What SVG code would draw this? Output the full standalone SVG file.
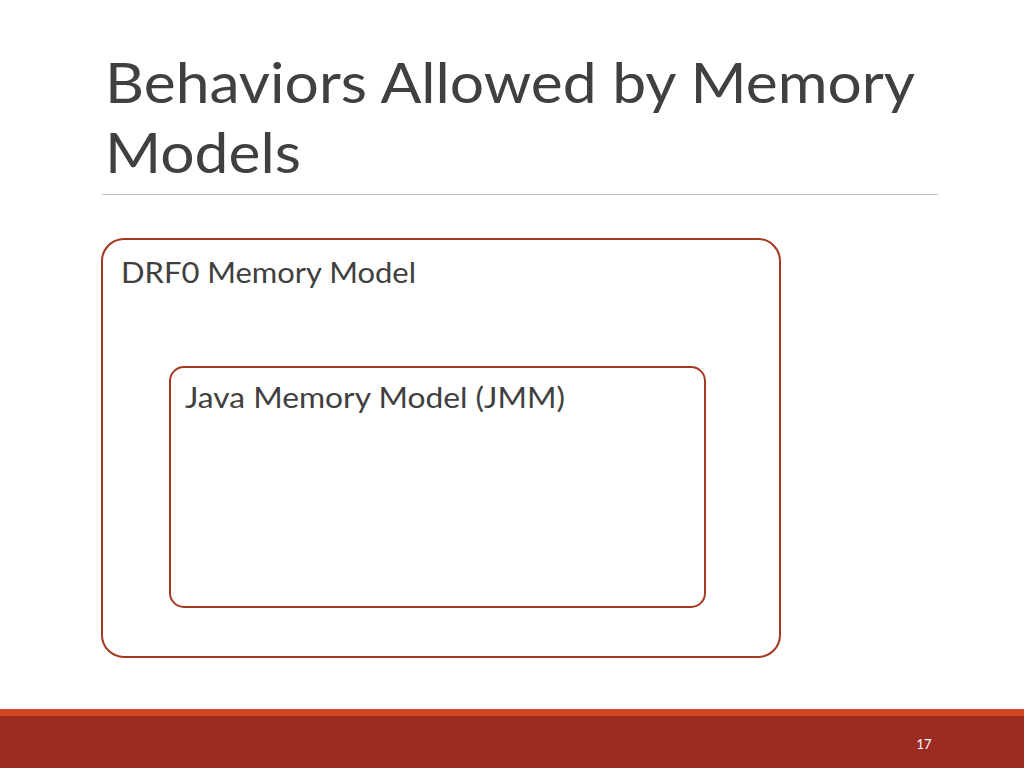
<svg xmlns="http://www.w3.org/2000/svg" width="1024" height="768" viewBox="0 0 1024 768">
<style>
.t{font-family:Lato,"Open Sans",sans-serif;fill:#404040}
.box{fill:none;stroke:#A5391F;stroke-width:2}
</style>
<rect width="1024" height="768" fill="#fff"/>
<text class="t" x="105" y="103" font-size="56" textLength="810" lengthAdjust="spacingAndGlyphs">Behaviors Allowed by Memory</text>
<text class="t" x="105" y="173" font-size="56" textLength="196" lengthAdjust="spacingAndGlyphs">Models</text>
<line x1="102" y1="194.5" x2="938" y2="194.5" stroke="#BFBFBF" stroke-width="1"/>
<g id="drf0">
<rect class="box" x="102" y="239" width="678" height="418" rx="22"/>
<text class="t" x="121" y="283" font-size="28" textLength="295" lengthAdjust="spacingAndGlyphs">DRF0 Memory Model</text>
</g>
<g id="jmm">
<rect class="box" x="170" y="367" width="535" height="240" rx="14"/>
<text class="t" x="185" y="408" font-size="28" textLength="380" lengthAdjust="spacingAndGlyphs">Java Memory Model (JMM)</text>
</g>
<g id="connectors"/>
<rect x="0" y="709" width="1024" height="8" fill="#D24726"/>
<rect x="0" y="716" width="1024" height="52" fill="#9C2B22"/>
<text x="924" y="749" font-size="13" fill="#fff" text-anchor="middle" font-family="Lato,sans-serif">17</text>
</svg>
